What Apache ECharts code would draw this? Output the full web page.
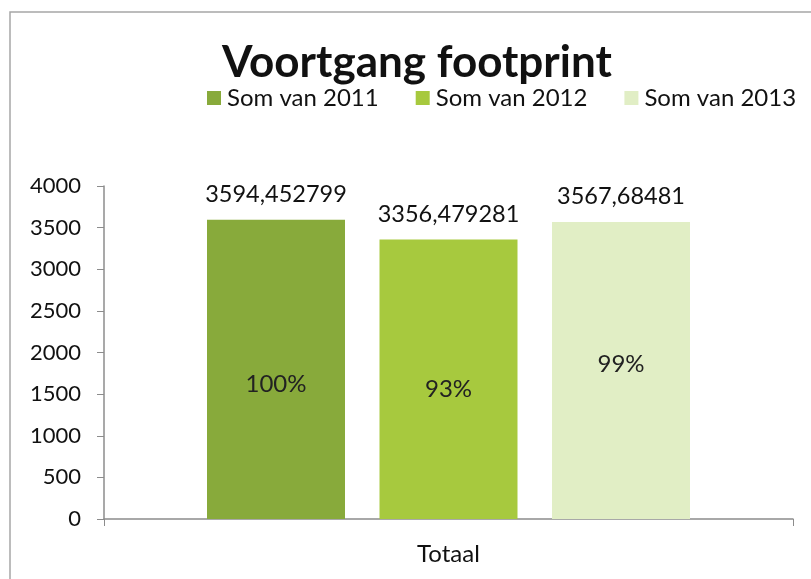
<!DOCTYPE html>
<html>
<head>
<meta charset="utf-8">
<script src="https://cdn.jsdelivr.net/npm/echarts@6/dist/echarts.min.js"></script>
<style>
  html, body { margin: 0; padding: 0; background: #fff; }
  #footprint { width: 811px; height: 579px; }
</style>
</head>
<body>
<div id="footprint"></div>
<script>
// gegevens uit de grafiek
const categories = ['Totaal'];
const seriesNames = ['Som van 2011', 'Som van 2012', 'Som van 2013'];
const values = [3594.452799, 3356.479281, 3567.68481];
const yTicks = [0, 500, 1000, 1500, 2000, 2500, 3000, 3500, 4000];

const colors = ['#88aa3b', '#a7c93e', '#e1eec5'];
// verschuiving van het %-label t.o.v. het midden van de staaf
const pctOffset = [[0, 15], [0, 10], [0, -6]];

const fmtComma = v => String(v).replace('.', ',');

let myChart = echarts.init(document.getElementById('footprint'));

let series = seriesNames.map((name, i) => ({
  name: name,
  type: 'bar',
  barWidth: 138,
  barGap: '25%',
  data: [values[i]],
  itemStyle: { color: colors[i] },
  label: {
    show: true,
    position: 'inside',
    offset: pctOffset[i],
    fontFamily: 'Lato',
    fontSize: 24,
    color: '#222',
    formatter: p => Math.round(p.value / values[0] * 100) + '%'
  },
  markPoint: {
    symbol: 'circle',
    symbolSize: 1,
    itemStyle: { color: 'transparent' },
    data: [{ type: 'max' }],
    label: {
      show: true,
      position: 'top',
      distance: 13,
      fontFamily: 'Lato',
      fontSize: 23.5,
      color: '#111',
      formatter: p => fmtComma(p.value)
    }
  }
}));

myChart.setOption({
  animation: false,
  color: colors,
  title: {
    text: 'Voortgang footprint',
    left: 217,
    top: 36,
    textStyle: {
      fontFamily: 'Lato',
      fontWeight: 'bold',
      fontSize: 44,
      color: '#111'
    }
  },
  legend: {
    data: seriesNames,
    left: 207,
    right: 0,
    top: 86,
    padding: 0,
    itemWidth: 14,
    itemHeight: 14,
    itemGap: 37,
    icon: 'rect',
    textStyle: {
      fontFamily: 'Lato',
      fontSize: 24,
      color: '#111',
      padding: [0, 0, 0, 1]
    }
  },
  grid: {
    left: 104,
    right: 18,
    top: 186,
    bottom: 60
  },
  xAxis: {
    type: 'category',
    data: categories,
    axisLine: { lineStyle: { color: '#8c8c8c', width: 1.5 } },
    axisTick: { show: true, length: 7, lineStyle: { color: '#8c8c8c' } },
    axisLabel: {
      margin: 23,
      fontFamily: 'Lato',
      fontSize: 24,
      color: '#111'
    }
  },
  yAxis: {
    type: 'value',
    min: yTicks[0],
    max: yTicks[yTicks.length - 1],
    interval: yTicks[1] - yTicks[0],
    splitLine: { show: false },
    axisLine: { show: true, lineStyle: { color: '#8c8c8c', width: 1.5 } },
    axisTick: { show: true, length: 7, lineStyle: { color: '#8c8c8c' } },
    axisLabel: {
      margin: 23,
      fontFamily: 'Lato',
      fontSize: 22,
      color: '#111',
      formatter: v => String(v)
    }
  },
  graphic: [{
    type: 'rect',
    shape: { x: 10, y: 12, width: 900, height: 700 },
    style: { fill: 'none', stroke: '#a6a6a6', lineWidth: 1.5 },
    silent: true
  }],
  series: series
});

window.addEventListener('resize', () => {
  myChart.resize();
});
</script>
</body>
</html>
